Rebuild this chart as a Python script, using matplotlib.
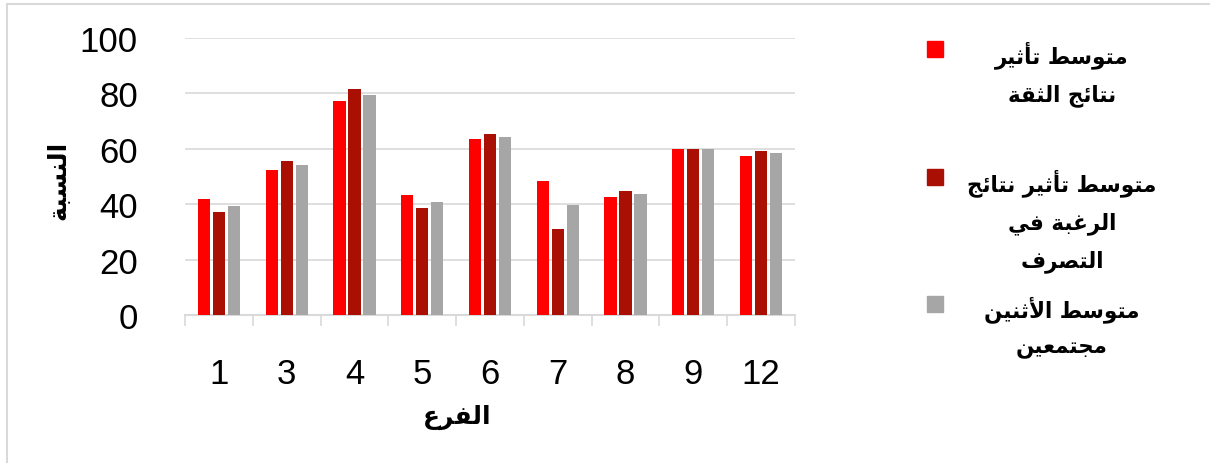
import numpy as np
import matplotlib
matplotlib.use("Agg")
import matplotlib.pyplot as plt
from matplotlib.patches import Rectangle
from matplotlib.lines import Line2D

# data
categories = ["1", "3", "4", "5", "6", "7", "8", "9", "12"]
trust_avg = [42.0, 52.5, 77.2, 43.3, 63.4, 48.3, 42.5, 60.1, 57.3]
desire_avg = [37.2, 55.5, 81.6, 38.6, 65.4, 31.0, 44.8, 59.9, 59.2]
combined_avg = [39.5, 54.1, 79.5, 40.8, 64.3, 39.8, 43.7, 59.9, 58.4]

series_labels = [
    "متوسط تأثير\nنتائج الثقة",
    "متوسط تأثير نتائج\nالرغبة في\nالتصرف",
    "متوسط الأثنين\nمجتمعين",
]
series_colors = ["#FF0000", "#A90F02", "#A6A6A6"]
x_label = "الفرع"
y_label = "النسبة"
y_ticks = [0, 20, 40, 60, 80, 100]

# --- minimal Arabic shaping (matplotlib has no complex text layout) ---
# (isolated, final, initial, medial) or (isolated, final) for right-joining letters
FORMS = {
    "ا": (0xFE8D, 0xFE8E), "أ": (0xFE83, 0xFE84), "إ": (0xFE87, 0xFE88),
    "آ": (0xFE81, 0xFE82), "ة": (0xFE93, 0xFE94), "ر": (0xFEAD, 0xFEAE),
    "و": (0xFEED, 0xFEEE), "د": (0xFEA9, 0xFEAA), "ى": (0xFEEF, 0xFEF0),
    "ب": (0xFE8F, 0xFE90, 0xFE91, 0xFE92), "ت": (0xFE95, 0xFE96, 0xFE97, 0xFE98),
    "ث": (0xFE99, 0xFE9A, 0xFE9B, 0xFE9C), "ج": (0xFE9D, 0xFE9E, 0xFE9F, 0xFEA0),
    "س": (0xFEB1, 0xFEB2, 0xFEB3, 0xFEB4), "ص": (0xFEB9, 0xFEBA, 0xFEBB, 0xFEBC),
    "ط": (0xFEC1, 0xFEC2, 0xFEC3, 0xFEC4), "ع": (0xFEC9, 0xFECA, 0xFECB, 0xFECC),
    "غ": (0xFECD, 0xFECE, 0xFECF, 0xFED0), "ف": (0xFED1, 0xFED2, 0xFED3, 0xFED4),
    "ق": (0xFED5, 0xFED6, 0xFED7, 0xFED8), "ل": (0xFEDD, 0xFEDE, 0xFEDF, 0xFEE0),
    "م": (0xFEE1, 0xFEE2, 0xFEE3, 0xFEE4), "ن": (0xFEE5, 0xFEE6, 0xFEE7, 0xFEE8),
    "ي": (0xFEF1, 0xFEF2, 0xFEF3, 0xFEF4), "ئ": (0xFE89, 0xFE8A, 0xFE8B, 0xFE8C),
}
LAM_ALEF = {"آ": (0xFEF5, 0xFEF6), "أ": (0xFEF7, 0xFEF8),
            "إ": (0xFEF9, 0xFEFA), "ا": (0xFEFB, 0xFEFC)}


def _joins_next(t):
    return isinstance(t, str) and t in FORMS and len(FORMS[t]) == 4


def _is_arabic(t):
    return isinstance(t, tuple) or t in FORMS


def shape_line(text):
    tokens = []
    i = 0
    while i < len(text):
        c = text[i]
        if c == "ل" and i + 1 < len(text) and text[i + 1] in LAM_ALEF:
            tokens.append(("LA", text[i + 1]))
            i += 2
        else:
            tokens.append(c)
            i += 1
    out = []
    for k, t in enumerate(tokens):
        prev_j = k > 0 and _joins_next(tokens[k - 1]) and _is_arabic(t)
        next_j = _joins_next(t) and k + 1 < len(tokens) and _is_arabic(tokens[k + 1])
        if isinstance(t, tuple):
            iso, fin = LAM_ALEF[t[1]]
            out.append(chr(fin if prev_j else iso))
        elif t in FORMS:
            f = FORMS[t]
            if prev_j and next_j:
                out.append(chr(f[3]))
            elif prev_j:
                out.append(chr(f[1]))
            elif next_j:
                out.append(chr(f[2]))
            else:
                out.append(chr(f[0]))
        else:
            out.append(t)
    return "".join(out)[::-1]


def ar(text):
    return "\n".join(shape_line(line) for line in text.split("\n"))


plt.rcParams["font.family"] = ["Liberation Sans", "DejaVu Sans"]
arabic_font = ["DejaVu Sans"]

W, H = 1210, 464
fig = plt.figure(figsize=(W / 100, H / 100), dpi=100)
ax = fig.add_axes([185 / W, 1 - 316 / H, 610 / W, 277 / H])

x = np.arange(len(categories))
bar_w = 0.18
pitch = 0.221
for i, (vals, col) in enumerate(zip([trust_avg, desire_avg, combined_avg], series_colors)):
    ax.bar(x + (i - 1) * pitch, vals, width=bar_w, color=col, zorder=3)

ax.set_xlim(-0.5, len(categories) - 0.5)
ax.set_ylim(0, 100)
ax.set_yticks(y_ticks)
ax.yaxis.grid(True, color="#D9D9D9", linewidth=1.2, zorder=0)
ax.tick_params(axis="y", length=0, pad=34, labelsize=25)

ax.set_xticks(x)
ax.set_xticklabels(categories)
ax.set_xticks(np.arange(len(categories) + 1) - 0.5, minor=True)
ax.tick_params(axis="x", which="major", length=0, pad=30, labelsize=25)
ax.tick_params(axis="x", which="minor", length=8, width=1.2, color="#D9D9D9")

for s in ["top", "right", "left"]:
    ax.spines[s].set_visible(False)
ax.spines["bottom"].set_color("#D9D9D9")
ax.spines["bottom"].set_linewidth(1.5)

fig.text(457 / W, 1 - 417 / H, ar(x_label), family=arabic_font, weight="bold",
         fontsize=18, ha="center", va="center")
fig.text(58 / W, 1 - 180 / H, ar(y_label), family=arabic_font, weight="bold",
         fontsize=18, ha="center", va="center", rotation=90)

# legend drawn by hand to keep the centred multi-line labels
legend_tops = [42, 170, 297]
for top, lab, col in zip(legend_tops, series_labels, series_colors):
    fig.patches.append(Rectangle((927 / W, 1 - (top + 16) / H), 16 / W, 16 / H,
                                 transform=fig.transFigure, color=col))
    fig.text(1062 / W, 1 - (top - 1) / H, ar(lab), family=arabic_font, weight="bold",
             fontsize=15.5, ha="center", va="top", multialignment="center",
             linespacing=1.9)

# outer chart frame (only top and left edges are visible in the crop)
fig.add_artist(Line2D([7 / W, 1], [1 - 5 / H, 1 - 5 / H], color="#D9D9D9", linewidth=1.5))
fig.add_artist(Line2D([7 / W, 7 / W], [0, 1 - 5 / H], color="#D9D9D9", linewidth=1.5))

fig.savefig("out.png", dpi=100)
